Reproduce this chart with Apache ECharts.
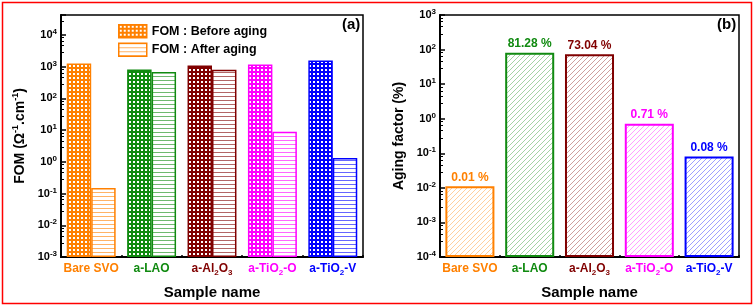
<!DOCTYPE html>
<html>
<head>
<meta charset="utf-8">
<script src="https://cdn.jsdelivr.net/npm/echarts@6/dist/echarts.min.js"></script>
<style>
html,body{margin:0;padding:0;background:#fff;}
#c{width:755px;height:307px;}
</style>
</head>
<body>
<div id="c"></div>
<script>
// ---- data ----
const categories = ['Bare SVO', 'a-LAO', 'a-Al2O3', 'a-TiO2-O', 'a-TiO2-V'];
const categoryRich = ['Bare SVO', 'a-LAO', 'a-Al{S}2{M}O{S}3', 'a-TiO{S}2{M}-O', 'a-TiO{S}2{M}-V'];
const catColors = ['#ff8000', '#108a10', '#800000', '#ff00ff', '#0000ff'];
const seriesNames = ['FOM : Before aging', 'FOM : After aging'];
const fomBefore = [1250, 820, 1100, 1180, 1580];
const fomAfter = [0.15, 680, 800, 8.9, 1.32];
const agingFactor = [0.011, 81.28, 73.04, 0.71, 0.081];
const agingText = ['0.01 %', '81.28 %', '73.04 %', '0.71 %', '0.08 %'];
const leftMin = 1e-3, leftMax = Math.pow(10, 4.63);
const rightMin = 1e-4, rightMax = 1e3;

const FONT = "'Liberation Sans', Arial, sans-serif";

// ---- patterns ----
function dotsPattern(color) {
  const c = document.createElement('canvas'); c.width = 4; c.height = 4;
  const g = c.getContext('2d');
  g.fillStyle = color; g.fillRect(0, 0, 4, 4);
  g.fillStyle = '#ffffff'; g.fillRect(1, 1, 2, 2);
  return { image: c, repeat: 'repeat' };
}
function hLinesPattern(color) {
  const c = document.createElement('canvas'); c.width = 4; c.height = 4;
  const g = c.getContext('2d');
  g.fillStyle = '#ffffff'; g.fillRect(0, 0, 4, 4);
  g.globalAlpha = 0.6; g.fillStyle = color; g.fillRect(0, 0, 4, 1);
  return { image: c, repeat: 'repeat' };
}
function diagPattern(color) {
  const s = 5;
  const c = document.createElement('canvas'); c.width = s; c.height = s;
  const g = c.getContext('2d');
  g.fillStyle = '#ffffff'; g.fillRect(0, 0, s, s);
  g.globalAlpha = 0.55; g.strokeStyle = color; g.lineWidth = 0.7;
  g.beginPath();
  g.moveTo(0, s); g.lineTo(s, 0);
  g.moveTo(-1, 1); g.lineTo(1, -1);
  g.moveTo(s - 1, s + 1); g.lineTo(s + 1, s - 1);
  g.stroke();
  return { image: c, repeat: 'repeat' };
}

function expLabel(v) {
  const l = Math.log10(v);
  const e = Math.round(l);
  if (Math.abs(l - e) > 1e-6) return '';
  return '{b|10}{e|' + e + '}';
}
const tickRich = {
  b: { fontFamily: FONT, fontWeight: 'bold', fontSize: 11, color: '#000', lineHeight: 14 },
  e: { fontFamily: FONT, fontWeight: 'bold', fontSize: 8, color: '#000', lineHeight: 8, verticalAlign: 'top' }
};

// category label rich styles
const catRich = {};
catColors.forEach((col, i) => {
  catRich['m' + i] = { fontFamily: FONT, fontWeight: 'bold', fontSize: 12, color: col, lineHeight: 16 };
  catRich['s' + i] = { fontFamily: FONT, fontWeight: 'bold', fontSize: 8, color: col, lineHeight: 8, verticalAlign: 'bottom' };
});
function catFormatter(value) {
  const i = categories.indexOf(value);
  const parts = categoryRich[i].split(/(\{S\}[^{]*|\{M\}[^{]*)/).filter(p => p.length);
  let out = '';
  parts.forEach(p => {
    if (p.startsWith('{S}')) out += '{s' + i + '|' + p.slice(3) + '}';
    else if (p.startsWith('{M}')) out += '{m' + i + '|' + p.slice(3) + '}';
    else out += '{m' + i + '|' + p + '}';
  });
  return out;
}

const nameRich = {
  n: { fontFamily: FONT, fontWeight: 'bold', fontSize: 14, color: '#000', lineHeight: 18 },
  s: { fontFamily: FONT, fontWeight: 'bold', fontSize: 9, color: '#000', lineHeight: 9, verticalAlign: 'top' }
};

function yAxis(gridIndex, min, max, name, nameGap) {
  return {
    type: 'log', gridIndex: gridIndex, min: min, max: max, logBase: 10,
    name: name, nameLocation: 'middle', nameGap: nameGap, nameRotate: 90,
    nameTextStyle: { rich: nameRich },
    axisLine: { show: true, lineStyle: { color: '#000', width: 2 } },
    axisTick: { show: true, inside: true, length: 5, lineStyle: { color: '#000', width: 1.5 } },
    minorTick: { show: true, splitNumber: 5, length: 3, lineStyle: { color: '#000', width: 1 } },
    splitLine: { show: false },
    axisLabel: { formatter: expLabel, rich: tickRich, margin: 4, showMaxLabel: true }
  };
}
function xAxis(gridIndex) {
  return {
    type: 'category', gridIndex: gridIndex, data: categories,
    name: 'Sample name', nameLocation: 'middle', nameGap: 28,
    nameTextStyle: { fontFamily: FONT, fontWeight: 'bold', fontSize: 15, color: '#000' },
    axisLine: { show: true, lineStyle: { color: '#000', width: 2 } },
    axisTick: { show: true, inside: true, length: 2, lineStyle: { color: '#000', width: 1.5 } },
    axisLabel: { formatter: catFormatter, rich: catRich, margin: 4, interval: 0 }
  };
}
// invisible base bar so that visible bars start from the axis minimum on a log axis
function baseSeries(xi, yi, stack, min) {
  return {
    type: 'bar', xAxisIndex: xi, yAxisIndex: yi, stack: stack, silent: true,
    barGap: '0%', barCategoryGap: xi === 0 ? '19%' : '18%',
    itemStyle: { color: 'rgba(0,0,0,0)', borderWidth: 0 },
    data: categories.map(() => min), z: 1
  };
}

const chart = echarts.init(document.getElementById('c'), null, { renderer: 'canvas' });
const orange = catColors[0];
chart.setOption({
  animation: false,
  backgroundColor: '#fff',
  grid: [
    { left: 61, top: 15, width: 302, height: 242, show: true, borderColor: '#000', borderWidth: 1.5, backgroundColor: 'transparent' },
    { left: 440, top: 15, width: 299, height: 242, show: true, borderColor: '#000', borderWidth: 1.5, backgroundColor: 'transparent' }
  ],
  legend: {
    orient: 'vertical', left: 113, top: 19, itemWidth: 28, itemHeight: 13, itemGap: 4,
    icon: 'rect',
    textStyle: { fontFamily: FONT, fontWeight: 'bold', fontSize: 12.5, color: '#000' },
    data: [
      { name: seriesNames[0], itemStyle: { color: dotsPattern(orange), borderColor: orange, borderWidth: 1.5 } },
      { name: seriesNames[1], itemStyle: { color: hLinesPattern(orange), borderColor: orange, borderWidth: 1.5 } }
    ]
  },
  xAxis: [xAxis(0), xAxis(1)],
  yAxis: [
    yAxis(0, leftMin, leftMax, '{n|FOM (Ω}{s|-1}{n|.cm}{s|-1}{n|)}', 32),
    yAxis(1, rightMin, rightMax, '{n|Aging factor (%)}', 32)
  ],
  series: [
    baseSeries(0, 0, 'before', leftMin),
    {
      name: seriesNames[0], type: 'bar', xAxisIndex: 0, yAxisIndex: 0, stack: 'before',
      barGap: '0%', barCategoryGap: '19%',
      itemStyle: { color: dotsPattern(orange), borderColor: orange, borderWidth: 1.5 },
      data: fomBefore.map((v, i) => ({ value: v, itemStyle: { color: dotsPattern(catColors[i]), borderColor: catColors[i], borderWidth: 1.5 } }))
    },
    baseSeries(0, 0, 'after', leftMin),
    {
      name: seriesNames[1], type: 'bar', xAxisIndex: 0, yAxisIndex: 0, stack: 'after',
      barGap: '0%', barCategoryGap: '19%',
      itemStyle: { color: hLinesPattern(orange), borderColor: orange, borderWidth: 1.5 },
      data: fomAfter.map((v, i) => ({ value: v, itemStyle: { color: hLinesPattern(catColors[i]), borderColor: catColors[i], borderWidth: 1.5 } }))
    },
    baseSeries(1, 1, 'aging', rightMin),
    {
      name: 'Aging factor', type: 'bar', xAxisIndex: 1, yAxisIndex: 1, stack: 'aging',
      barCategoryGap: '18%',
      data: agingFactor.map((v, i) => ({
        value: v,
        itemStyle: { color: diagPattern(catColors[i]), borderColor: catColors[i], borderWidth: 2 },
        label: {
          show: true, position: 'top', distance: 3, formatter: agingText[i],
          fontFamily: FONT, fontWeight: 'bold', fontSize: 12, color: catColors[i]
        }
      }))
    }
  ],
  graphic: [
    { type: 'rect', shape: { x: 2.5, y: 2.5, width: 749, height: 301 }, style: { fill: 'none', stroke: '#ff0000', lineWidth: 1.5 }, z: 100 },
    { type: 'text', left: 342, top: 17, style: { text: '(a)', font: "bold 15px 'Liberation Sans', Arial, sans-serif", fill: '#000' }, z: 100 },
    { type: 'text', left: 717, top: 17, style: { text: '(b)', font: "bold 15px 'Liberation Sans', Arial, sans-serif", fill: '#000' }, z: 100 }
  ]
});
</script>
</body>
</html>
